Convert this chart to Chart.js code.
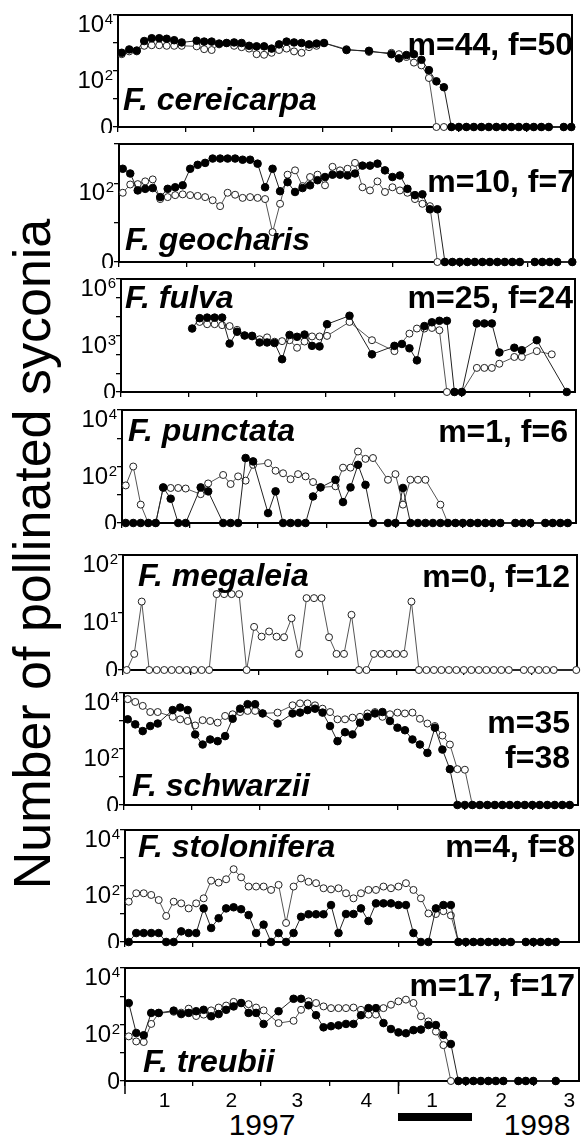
<!DOCTYPE html>
<html>
<head>
<meta charset="utf-8">
<script src="https://cdn.jsdelivr.net/npm/chart.js@4.4.1/dist/chart.umd.min.js"></script>
<style>
  html, body { margin: 0; padding: 0; background: #fff; }
  body { width: 582px; height: 1138px; position: relative; overflow: hidden; font-family: 'Liberation Sans', Arial, sans-serif; color: #000; }
  canvas { position: absolute; }
  .ytitle { position: absolute; left: 32px; top: 554px; transform: translate(-50%, -50%) rotate(-90deg); font-size: 52px; line-height: 1; white-space: nowrap; }
  .year { position: absolute; top: 1110px; font-size: 30px; line-height: 1; transform: translateX(-50%); }
  .bar { position: absolute; left: 398px; top: 1113px; width: 74px; height: 8px; background: #000; }
</style>
</head>
<body>
<div class="ytitle">Number of pollinated syconia</div>
<div class="year" style="left:262px">1997</div>
<div class="year" style="left:537px">1998</div>
<div class="bar"></div>

<script>
const _ = null;

// census dates, days since 1 Jan 1997
const sampleDay = [5, 15, 25, 35, 45, 55, 65, 75, 85, 95, 105, 115, 125, 135, 145, 155, 165, 175, 185, 195,
  205, 215, 225, 235, 245, 255, 265, 275, 285, 295, 305, 315, 325, 335, 345, 355, 365, 375, 385, 395,
  405, 415, 425, 435, 445, 455, 465, 475, 485, 495, 505, 515, 525, 535, 545, 555, 565, 575, 585, 595, 605];

const quarterStart = [0, 90, 181, 273, 365, 455, 546];
const quarterLabelDay = [53, 142, 230, 322, 410, 502, 593];
const quarterLabels = ['1', '2', '3', '4', '1', '2', '3'];
const yearStart = [0, 365];

// values are log10(n + 1); filled = male trees (m), open = female trees (f)
const cereicarpaMale = [2.65, 2.77, 2.73, 3.07, 3.17, 3.17, 3.15, 3.10, 3.02, _,
  3.08, 3.05, 3.05, 2.98, 3.00, 3.02, 3.00, 2.90, 2.88, 2.88,
  2.80, 2.95, 3.05, 3.02, 3.00, 2.95, 2.98, 3.00, _, _,
  2.75, _, _, 2.72, _, _, 2.60, 2.45, 2.57, 2.60,
  2.40, 2.03, 1.63, 1.42, 0, 0, 0, 0, 0, 0,
  0, 0, 0, 0, 0, 0, 0, 0, _, 0, 0];
const cereicarpaFemale = [2.60, 2.70, 2.70, 2.90, 2.92, 2.92, 2.90, 2.90, 2.90, _,
  2.88, 2.78, 2.75, 2.95, 3.00, 2.90, 2.85, 2.80, 2.60, 2.58,
  2.65, 2.75, 2.80, 2.70, 2.65, 2.85, 2.90, 3.00, _, _,
  2.78, _, _, 2.68, _, _, 2.65, 2.60, 2.50, 2.30,
  2.20, 1.75, 0, 0, 0, 0, 0, 0, 0, 0,
  0, 0, 0, 0, 0, 0, 0, 0, _, 0, 0];

const geocharisMale = [2.37, 2.25, 1.82, 1.86, 1.88, 1.65, 1.86, 1.90, 1.95, 2.37,
  2.47, 2.52, 2.63, 2.63, 2.63, 2.63, 2.60, 2.60, 2.50, 1.90,
  2.37, 1.80, 2.03, 1.78, 1.88, 1.95, 2.08, 2.16, 2.22, 2.22,
  2.20, 2.25, 2.45, 2.45, 2.50, 2.33, 2.16, 2.20, 1.86, 1.70,
  1.72, 1.34, 1.34, 0, 0, 0, 0, 0, 0, 0,
  0, 0, 0, 0, _, 0, 0, 0, 0, _, 0];
const geocharisFemale = [1.76, 1.97, 1.98, 2.05, 2.10, 1.60, 1.65, 1.70, 1.72, 1.70,
  1.68, 1.65, 1.57, 1.42, 1.76, 1.71, 1.63, 1.65, 1.63, 1.60,
  0.76, 1.48, 2.22, 2.33, 1.93, 2.16, 2.22, 1.95, 2.42, 2.33,
  2.37, 2.52, 1.90, 1.82, 2.05, 1.78, 1.90, 1.82, 1.76, 1.60,
  1.48, 1.42, 0, 0, 0, 0, 0, 0, 0, 0,
  0, 0, 0, 0, _, 0, 0, 0, 0, _, 0];

const fulvaMale = [_, _, _, _, _, _, _, _, _, 3.37,
  3.92, 3.95, 3.95, 3.95, 2.57, 3.20, 3.00, 2.98, 2.63, 2.63,
  2.60, 1.74, 3.03, 2.93, 3.05, 2.45, 2.42, 3.60, _, _,
  4.05, _, _, 2.00, _, _, 2.45, 2.55, 2.32, 1.68,
  3.50, 3.70, 3.78, 3.78, 0, 0, _, 3.64, 3.64, 3.64,
  2.10, _, 2.35, 2.22, _, 2.75, _, _, _, 0, _];
const fulvaFemale = [_, _, _, _, _, _, _, _, _, _,
  3.72, 3.60, 3.60, 3.55, 3.50, 3.30, 3.00, 2.95, 2.80, 2.90,
  2.67, 2.70, 2.75, 2.35, 2.68, 2.95, 2.95, 2.98, _, _,
  3.72, _, _, 2.75, _, _, 2.17, _, 3.10, 3.37,
  3.37, 3.40, 3.28, 0, 0, 0, _, 1.28, 1.28, 1.28,
  1.50, _, 1.86, 1.86, _, 2.17, _, 2.00, _, _, _];

const punctataMale = [0, 0, 0, 0, 0, 1.26, 0.86, 0, 0, _,
  1.26, 1.12, _, 0, 0, 0, 2.30, 2.18, _, 0.35,
  1.12, 0, 0, 0, 0, 0.94, 1.26, _, 1.53, 0.74,
  1.26, 2.06, 1.35, 0, _, 0, 0, 1.24, 0, 0,
  0, 0, 0, 0, 0, 0, 0, 0, 0, 0,
  0, _, 0, 0, 0, _, 0, 0, 0, 0, _];
const punctataFemale = [1.33, 2.00, 0.65, 0, 0, 1.24, 1.24, 1.24, 1.22, _,
  1.02, 1.40, _, 1.70, 1.38, 1.65, 1.50, 2.06, _, 2.12,
  1.85, 1.76, 1.55, 1.73, 1.65, 1.45, 1.26, _, 1.30, 1.96,
  1.96, 2.53, 2.27, 2.30, _, 1.53, 1.73, 0.65, 1.53, 1.53,
  1.53, _, 0.65, 0, 0, 0, 0, 0, 0, 0,
  0, _, 0, 0, 0, _, 0, 0, 0, 0, _];

const megaleiaMale = [];
const megaleiaFemale = [0, 0.28, 1.19, 0, 0, 0, 0, 0, 0, 0,
  0, 0, 1.32, 1.32, 1.32, 1.32, 0, 0.75, 0.58, 0.67,
  0.58, 0.57, 0.90, 0.28, 1.25, 1.25, 1.25, 0.57, 0.28, 0.28,
  0.96, 0, 0, 0.28, 0.28, 0.28, 0.28, 0.28, 1.19, 0,
  0, 0, 0, 0, 0, 0, 0, 0, 0, 0,
  0, 0, _, 0, 0, 0, 0, 0, _, _, 0];

const schwarziiMale = [3.06, 2.88, 2.64, 2.82, 2.91, _, 3.39, 3.48, 3.39, 2.52,
  2.16, 2.34, 2.28, 2.46, 3.08, 3.44, 3.60, 3.60, 3.27, _,
  2.91, _, 3.27, 3.30, 3.39, 3.44, 3.30, 2.82, 2.28, 2.60,
  2.52, 2.94, 3.15, 3.27, 3.32, 3.00, 2.76, 2.67, 2.34, 2.16,
  1.86, 2.76, 1.98, 1.28, 0, 0, 0, 0, 0, 0,
  0, 0, 0, 0, 0, 0, 0, 0, 0, 0, _];
const schwarziiFemale = [3.78, 3.68, 3.54, 3.32, 3.32, _, 3.15, 3.06, 3.00, 2.84,
  3.03, 3.00, 2.94, 3.18, 3.24, 3.32, 3.36, 3.36, 3.27, _,
  3.30, _, 3.56, 3.63, 3.63, 3.56, 3.44, 3.32, 3.06, 3.06,
  3.12, 3.15, 3.27, 3.32, 3.15, 3.24, 3.30, 3.27, 3.30, 3.08,
  2.91, 2.82, 2.48, 2.16, 1.28, 1.26, 0, 0, 0, 0,
  0, 0, 0, 0, 0, 0, 0, 0, 0, 0, _];

const stoloniferaMale = [0, 0.32, 0.32, 0.32, 0.32, 0, 0, 0.38, 0.32, 0.32,
  1.20, 0.50, 0.85, 1.20, 1.24, 1.17, 0.96, 0.32, 0.62, 0,
  0.32, 0, 0.32, 0.90, 0.99, 0.99, 0.99, 1.32, 0.32, 1.00,
  1.00, 1.20, 0.75, 1.38, 1.38, 1.38, 1.32, 1.32, 0.32, 0,
  0, 1.20, 1.32, 1.32, 0, 0, 0, 0, 0, 0,
  0, 0, _, 0, 0, 0, 0, 0, _, _, _];
const stoloniferaFemale = [1.44, 1.74, 1.74, 1.68, 1.50, 0.93, 1.44, 1.38, 1.20, 1.38,
  1.56, 2.19, 2.12, 2.24, 2.60, 2.31, 1.98, 1.98, 1.98, 1.86,
  2.04, 0.68, 1.98, 2.27, 2.15, 2.10, 1.92, 1.88, 1.92, 1.74,
  1.56, 1.74, 1.86, 1.86, 1.98, 1.92, 1.98, 2.10, 1.86, 1.56,
  1.02, 1.00, 1.10, 0.95, 0, 0, 0, 0, 0, 0,
  0, 0, _, 0, 0, 0, 0, 0, _, _, _];

const treubiiMale = [2.76, 1.70, 1.62, 2.41, 2.41, _, 2.49, 2.37, 2.41, 2.47,
  2.52, 2.29, 2.37, 2.52, 2.64, 2.76, 2.41, 2.41, 2.02, _,
  2.47, _, 2.91, 2.91, 2.68, 2.33, 1.90, 1.94, 1.97, 2.02,
  2.02, 2.33, 2.58, 2.58, 2.05, 1.84, 1.72, 1.69, 1.80, 1.82,
  1.98, 1.98, 1.63, 1.31, 0, 0, 0, 0, 0, 0,
  0, _, 0, 0, 0, _, _, 0, _, _, _];
const treubiiFemale = [1.58, 1.40, 1.38, 2.02, 2.40, _, 2.45, 2.42, 2.56, 2.30,
  2.35, 2.50, 2.60, 2.67, 2.80, 2.76, 2.72, 2.60, 2.50, _,
  2.05, _, 2.13, 2.52, 2.82, 2.76, 2.64, 2.58, 2.58, 2.58,
  2.60, 2.52, 2.35, 2.35, 2.58, 2.70, 2.82, 2.88, 2.76, 2.29,
  2.11, 1.75, 1.27, 0, 0, 0, 0, 0, 0, 0,
  0, _, 0, 0, 0, _, _, 0, _, _, _];

const species = ['F. cereicarpa', 'F. geocharis', 'F. fulva', 'F. punctata',
  'F. megaleia', 'F. schwarzii', 'F. stolonifera', 'F. treubii'];
const treeCounts = [['m=44, f=50'], ['m=10, f=7'], ['m=25, f=24'], ['m=1, f=6'],
  ['m=0, f=12'], ['m=35', 'f=38'], ['m=4, f=8'], ['m=17, f=17']];
const maleSeries = [cereicarpaMale, geocharisMale, fulvaMale, punctataMale,
  megaleiaMale, schwarziiMale, stoloniferaMale, treubiiMale];
const femaleSeries = [cereicarpaFemale, geocharisFemale, fulvaFemale, punctataFemale,
  megaleiaFemale, schwarziiFemale, stoloniferaFemale, treubiiFemale];
const decadeMax = [4, 3, 6, 4, 2, 4, 4, 4];
const decadeLabels = [[0, 2, 4], [0, 2], [0, 3, 6], [0, 2, 4], [0, 1, 2], [0, 2, 4], [0, 2, 4], [0, 2, 4]];

// page layout of each panel (px)
const panelBox = [
  { left: 118, top: 15,  bottom: 127,  name: [123, 110],  countX: 573, countY: [55] },
  { left: 119, top: 144, bottom: 262,  name: [125, 250],  countX: 575, countY: [192] },
  { left: 121, top: 279, bottom: 392,  name: [125, 308],  countX: 573, countY: [308] },
  { left: 122, top: 410, bottom: 523,  name: [128, 441],  countX: 568, countY: [442] },
  { left: 123, top: 555, bottom: 670,  name: [138, 586],  countX: 570, countY: [587] },
  { left: 124, top: 693, bottom: 805,  name: [132, 796],  countX: 570, countY: [733, 768] },
  { left: 125, top: 830, bottom: 942,  name: [138, 857],  countX: 575, countY: [857] },
  { left: 125, top: 968, bottom: 1081, name: [143, 1072], countX: 575, countY: [996] },
];
const AXIS_W = 60, PAD_TOP = 14, PAD_RIGHT = 4, PLOT_W = 455;
const LAST = panelBox.length - 1;
const FONT = "'Liberation Sans', Arial, sans-serif";

Chart.defaults.font.family = FONT;

const toPoints = vals => sampleDay.map((d, i) => ({ x: d, y: vals[i] ?? null }));
const gapDash = c => (c.p1.parsed.x - c.p0.parsed.x > 25 ? [2, 2] : undefined);

function decor(k) {
  const box = panelBox[k];
  const ox = box.left - AXIS_W, oy = box.top - PAD_TOP;
  return {
    id: 'decor' + k,
    beforeDatasetsDraw(chart) {
      const { ctx, chartArea: a } = chart;
      ctx.save();
      ctx.strokeStyle = '#000';
      ctx.lineWidth = 2;
      ctx.strokeRect(a.left, a.top, a.right - a.left, a.bottom - a.top);
      ctx.restore();
    },
    afterDraw(chart) {
      const { ctx, chartArea: a, scales } = chart;
      ctx.save();
      ctx.fillStyle = '#000';
      ctx.textBaseline = 'alphabetic';
      // y tick labels: 0, 10^n
      decadeLabels[k].forEach(v => {
        const y = scales.y.getPixelForValue(v);
        const r = a.left - 5;
        ctx.textAlign = 'right';
        if (v === 0) {
          ctx.font = '23px ' + FONT;
          ctx.fillText('0', r, y + 8);
        } else {
          ctx.font = '15px ' + FONT;
          ctx.fillText(String(v), r, y + 9);
          const w = ctx.measureText(String(v)).width;
          ctx.font = '24px ' + FONT;
          ctx.fillText('10', r - w - 0.5, y + 17);
        }
      });
      // species name and tree counts
      ctx.textAlign = 'left';
      ctx.font = 'italic bold 32px ' + FONT;
      ctx.fillText(species[k], box.name[0] - ox, box.name[1] - oy);
      ctx.textAlign = 'right';
      ctx.font = 'bold 32px ' + FONT;
      treeCounts[k].forEach((t, j) => ctx.fillText(t, box.countX - ox, box.countY[j] - oy));
      // longer ticks at the start of each year
      if (k === LAST) {
        ctx.strokeStyle = '#000';
        ctx.lineWidth = 1.5;
        yearStart.forEach(d => {
          const x = scales.x.getPixelForValue(d);
          ctx.beginPath();
          ctx.moveTo(x, a.bottom);
          ctx.lineTo(x, a.bottom + 13);
          ctx.stroke();
        });
      }
      ctx.restore();
    }
  };
}

panelBox.forEach((box, k) => {
  const isLast = k === LAST;
  const xh = isLast ? 40 : 6;
  const canvas = document.createElement('canvas');
  canvas.width = AXIS_W + PLOT_W + PAD_RIGHT;
  canvas.height = PAD_TOP + (box.bottom - box.top) + xh;
  canvas.style.left = (box.left - AXIS_W) + 'px';
  canvas.style.top = (box.top - PAD_TOP) + 'px';
  document.body.appendChild(canvas);

  const xTicks = isLast ? [...quarterStart, ...quarterLabelDay].sort((a, b) => a - b) : quarterStart;
  const yTicks = [];
  for (let v = 0; v <= decadeMax[k]; v++) yTicks.push(v);

  new Chart(canvas, {
    type: 'line',
    data: {
      datasets: [
        {
          label: 'male trees (m)',
          data: toPoints(maleSeries[k]),
          borderColor: '#222', borderWidth: 1,
          pointRadius: 3.8, pointBackgroundColor: '#000', pointBorderColor: '#000', pointBorderWidth: 1,
          spanGaps: true, clip: false, tension: 0,
          segment: { borderDash: gapDash }
        },
        {
          label: 'female trees (f)',
          data: toPoints(femaleSeries[k]),
          borderColor: '#555', borderWidth: 1,
          pointRadius: 3.5, pointBackgroundColor: '#fff', pointBorderColor: '#222', pointBorderWidth: 1,
          spanGaps: true, clip: false, tension: 0,
          segment: { borderDash: gapDash }
        }
      ]
    },
    options: {
      responsive: false,
      maintainAspectRatio: false,
      animation: false,
      events: [],
      layout: { padding: { left: 0, right: PAD_RIGHT, top: PAD_TOP, bottom: 0 } },
      plugins: { legend: { display: false }, tooltip: { enabled: false } },
      scales: {
        x: {
          type: 'linear', min: 0, max: 606,
          afterBuildTicks: s => { s.ticks = xTicks.map(v => ({ value: v })); },
          afterFit: s => { s.height = xh; },
          ticks: {
            display: isLast, autoSkip: false, maxRotation: 0, padding: 3, color: '#000',
            font: { size: 21 },
            callback: v => { const j = quarterLabelDay.indexOf(v); return j >= 0 ? quarterLabels[j] : ''; }
          },
          grid: {
            drawOnChartArea: false, drawTicks: true, tickLength: 5, lineWidth: 1.3, color: '#000',
            tickColor: c => (c.tick && quarterStart.includes(c.tick.value) ? '#000' : 'rgba(0,0,0,0)')
          },
          border: { display: false }
        },
        y: {
          type: 'linear', min: 0, max: decadeMax[k],
          afterBuildTicks: s => { s.ticks = yTicks.map(v => ({ value: v })); },
          afterFit: s => { s.width = AXIS_W; },
          ticks: { display: false },
          grid: { drawOnChartArea: false, drawTicks: true, tickLength: 5, lineWidth: 1.3, color: '#000' },
          border: { display: false }
        }
      }
    },
    plugins: [decor(k)]
  });
});
</script>
</body>
</html>
